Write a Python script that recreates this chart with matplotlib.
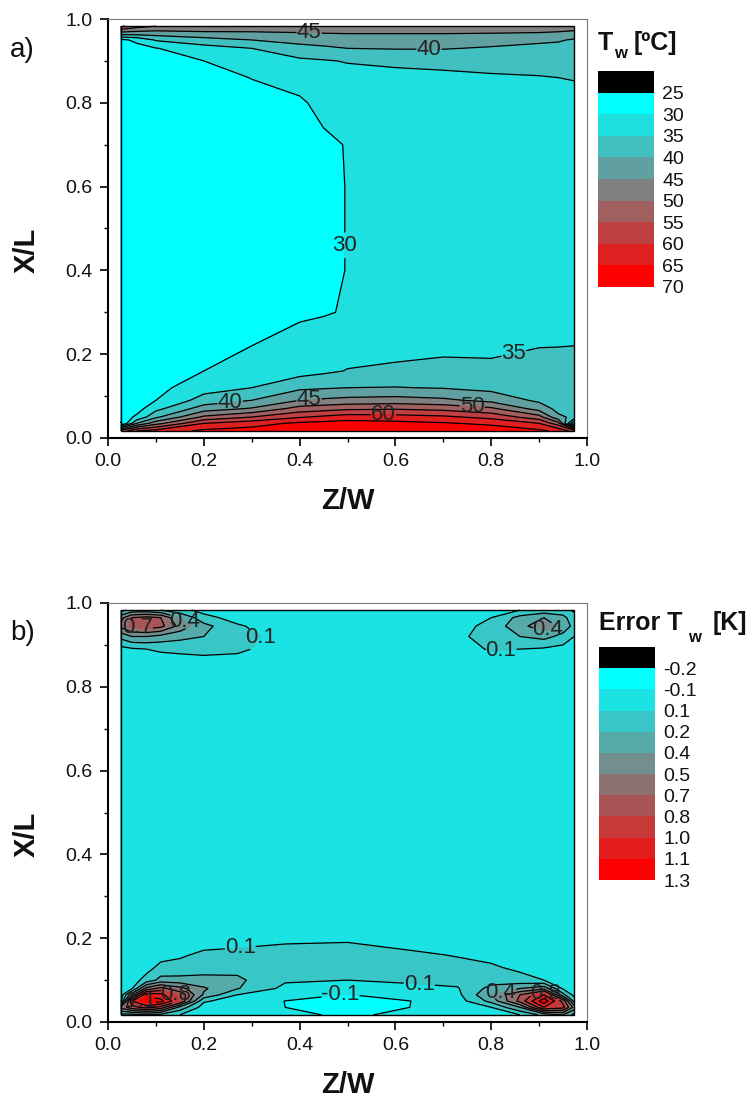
import numpy as np
import matplotlib
matplotlib.use('Agg')
import matplotlib.pyplot as plt
import matplotlib.ticker as tkr
from matplotlib.patches import Rectangle

plt.rcParams['font.family'] = ['Liberation Sans', 'DejaVu Sans']
plt.rcParams['contour.negative_linestyle'] = 'solid'

# ---- panel a) wall temperature T_w [C] ----
tw_z = [0.027, 0.06, 0.1, 0.2, 0.3, 0.4, 0.45, 0.5, 0.6, 0.7, 0.8, 0.9, 0.94, 0.973]
tw_x = [0.017, 0.035, 0.05, 0.07, 0.09, 0.12, 0.16, 0.22, 0.3, 0.4, 0.5, 0.6, 0.7,
        0.8, 0.86, 0.9, 0.93, 0.95, 0.965, 0.983]
# one list per Z/W station, values along tw_x
tw_cols = [
    [52, 24, 27, 26.5, 26.2, 26, 26, 26, 26, 26, 26, 26, 26, 26.2, 26.5, 27, 27.5, 29, 42, 56],
    [60, 40, 31, 28, 27.2, 26.8, 26.6, 26.5, 26.5, 26.5, 26.5, 26.5, 26.6, 26.8, 27.2, 27.8, 28.5, 31, 42, 52],
    [62, 48, 39, 33.5, 30, 28.5, 27.6, 27.2, 27, 27, 27, 27, 27.1, 27.5, 28, 29, 29.8, 35.5, 42, 50],
    [66, 60, 51, 42.5, 37, 33, 30, 28.5, 27.8, 27.5, 27.5, 27.5, 27.6, 27.8, 28.5, 30, 33, 38, 43.5, 49],
    [67, 63, 55, 45.5, 40, 35, 32.3, 30, 28.6, 28.2, 28.2, 28.2, 28.4, 28.5, 30.1, 32, 35, 40, 44, 48],
    [68, 66, 59.5, 52, 45, 39, 33, 31.2, 29.5, 29.2, 29.2, 29.2, 29.3, 29.7, 30.8, 34, 38.5, 41.5, 44.5, 48],
    [68.5, 66.5, 61, 53, 45.8, 39.5, 34.1, 32.1, 29.7, 29.6, 29.6, 29.6, 29.6, 30.6, 32, 34.6, 39.2, 42, 44.8, 48],
    [69, 67, 62.5, 54, 46.5, 40, 35.2, 33, 30.3, 30.05, 30.05, 30.05, 30.1, 31.2, 33.2, 35.3, 40.0, 42.5, 45, 48],
    [69, 66.5, 62, 54.5, 47, 40.2, 35.8, 33.5, 32.2, 31.2, 31, 31, 31.2, 32, 33.8, 35.8, 40.3, 42.5, 45, 48],
    [69, 65.5, 61, 53.5, 46, 39.7, 36, 34.2, 33, 32, 31.8, 31.8, 31.9, 32.5, 34.2, 36, 40.3, 42.3, 45, 48],
    [68, 64, 58.5, 51, 43.5, 38.5, 35.6, 34.4, 33.6, 32.8, 32.5, 32.5, 32.6, 33, 34.6, 36.2, 39.5, 42, 44.8, 48],
    [66, 60, 52, 43, 39, 37.5, 36.2, 34.9, 34.2, 33.3, 33, 33, 33.1, 33.3, 34.8, 36.5, 38.6, 41, 44.5, 48],
    [64, 52, 41, 38.5, 37.8, 37, 36, 34.95, 34.3, 33.5, 33.2, 33.2, 33.3, 33.5, 35, 36.6, 38.5, 40.5, 44, 48],
    [58, 24.5, 39, 38, 37.4, 36.6, 35.8, 35, 34.4, 33.7, 33.4, 33.4, 33.5, 33.6, 35.2, 36.8, 38.3, 39.5, 43, 48],
]
tw_levels = [25, 30, 35, 40, 45, 50, 55, 60, 65, 70]
tw_ticklabels = ['25', '30', '35', '40', '45', '50', '55', '60', '65', '70']
# (level, approx. position) of the in-line contour labels
tw_labels = [(45, (0.42, 0.96)), (40, (0.67, 0.926)), (30, (0.5, 0.46)),
             (35, (0.85, 0.186)), (40, (0.255, 0.086)), (45, (0.42, 0.083)),
             (60, (0.575, 0.047)), (50, (0.76, 0.07))]

# ---- panel b) error of T_w [K] ----
err_z = [0.027, 0.05, 0.08, 0.11, 0.15, 0.2, 0.27, 0.37, 0.5, 0.63, 0.73, 0.8, 0.86, 0.91, 0.95, 0.973]
err_x = [0.017, 0.035, 0.05, 0.065, 0.08, 0.1, 0.13, 0.16, 0.19, 0.22, 0.3,
         0.8, 0.86, 0.89, 0.92, 0.945, 0.965, 0.983]
err_cols = [
    [0.2, 0.6, 0.08, 0.02, 0.0, 0.0, 0.0, 0.0, 0.0, 0.0, 0.0, 0.0, 0.0, 0.05, 0.3, 0.6, 0.5, 0.2],
    [0.2, 0.8, 1.0, 0.5, 0.09, 0.04, 0.02, 0.0, 0.0, 0.0, 0.0, 0.0, 0.02, 0.08, 0.4, 0.75, 0.7, 0.3],
    [0.25, 0.9, 1.25, 1.1, 0.6, 0.15, 0.05, 0.0, 0.0, 0.0, 0.0, 0.0, 0.03, 0.1, 0.4, 0.8, 0.75, 0.3],
    [0.2, 0.8, 1.2, 1.05, 0.75, 0.3, 0.14, 0.05, 0.0, 0.0, 0.0, 0.0, 0.04, 0.12, 0.35, 0.75, 0.7, 0.25],
    [0.1, 0.35, 0.85, 0.8, 0.6, 0.3, 0.15, 0.08, 0.0, 0.0, 0.0, 0.0, 0.05, 0.13, 0.3, 0.5, 0.4, 0.15],
    [-0.02, 0.03, 0.12, 0.38, 0.42, 0.3, 0.18, 0.13, 0.05, 0.0, 0.0, 0.0, 0.05, 0.15, 0.25, 0.3, 0.15, 0.05],
    [-0.03, 0.0, 0.03, 0.1, 0.26, 0.28, 0.2, 0.15, 0.06, 0.0, 0.0, 0.0, 0.03, 0.14, 0.2, 0.12, 0.04, 0.0],
    [0.02, -0.05, -0.052, 0.01, 0.06, 0.12, 0.18, 0.17, 0.09, 0.02, 0.0, 0.0, 0.0, 0.0, 0.0, 0.0, 0.0, 0.0],
    [-0.1, -0.12, -0.1, -0.055, 0.0, 0.1, 0.16, 0.17, 0.1, 0.03, 0.0, 0.0, 0.0, 0.0, 0.0, 0.0, 0.0, 0.0],
    [0.02, -0.05, -0.052, 0.02, 0.07, 0.12, 0.17, 0.13, 0.05, 0.0, 0.0, 0.0, 0.0, 0.0, 0.0, 0.0, 0.0, 0.0],
    [-0.02, 0.0, 0.03, 0.06, 0.09, 0.14, 0.15, 0.09, 0.02, 0.0, 0.0, 0.0, 0.0, 0.02, 0.05, 0.04, 0.02, 0.0],
    [0.0, 0.1, 0.3, 0.4, 0.3, 0.18, 0.12, 0.06, 0.0, 0.0, 0.0, 0.0, 0.02, 0.12, 0.2, 0.15, 0.1, 0.02],
    [0.1, 0.4, 0.75, 0.7, 0.4, 0.15, 0.07, 0.02, 0.0, 0.0, 0.0, 0.0, 0.03, 0.1, 0.25, 0.35, 0.3, 0.1],
    [0.3, 1.0, 1.25, 1.0, 0.5, 0.1, 0.03, 0.0, 0.0, 0.0, 0.0, 0.0, 0.02, 0.08, 0.3, 0.5, 0.4, 0.15],
    [0.4, 0.9, 0.8, 0.3, 0.08, 0.0, 0.0, 0.0, 0.0, 0.0, 0.0, 0.0, 0.0, 0.05, 0.2, 0.35, 0.3, 0.15],
    [0.2, 0.5, 0.2, 0.05, 0.0, 0.0, 0.0, 0.0, 0.0, 0.0, 0.0, 0.0, 0.0, 0.03, 0.1, 0.2, 0.15, 0.08],
]
err_levels = [-0.2, -0.05, 0.1, 0.25, 0.4, 0.55, 0.7, 0.85, 1.0, 1.15, 1.3]
err_ticklabels = ['-0.2', '-0.1', '0.1', '0.2', '0.4', '0.5', '0.7', '0.8', '1.0', '1.1', '1.3']
err_labels = [(0.7, (0.06, 0.92)), (0.4, (0.157, 0.952)), (0.1, (0.32, 0.916)),
              (0.1, (0.82, 0.895)), (0.4, (0.916, 0.943)), (0.1, (0.276, 0.179)),
              (0.1, (0.65, 0.095)), (-0.05, (0.485, 0.072)), (1.15, (0.04, 0.076)),
              (0.85, (0.144, 0.07)), (0.4, (0.82, 0.072)), (0.85, (0.916, 0.076))]

# colour steps cyan -> grey -> red, black below the lowest level
tw_colors = ['#00FFFF', '#20DFDF', '#40C0C0', '#60A0A0', '#808080',
             '#A06060', '#BF4040', '#DF2020', '#FF0000']
err_colors = ['#00FFFF', '#1CE3E3', '#39C6C6', '#55AAAA', '#728E8E',
              '#8E7272', '#AA5555', '#C73939', '#E31C1C', '#FF0000']

TXT = '#111111'


def draw_panel(ax, z, x, cols, levels, colors, fmt, labels):
    data = np.array(cols, dtype=float).T
    ax.contourf(z, x, data, levels=levels, colors=['black'] + colors, extend='min')

    labelled = []
    for lev, _ in labels:
        if lev not in labelled:
            labelled.append(lev)
    plain = [lev for lev in levels if lev not in labelled]
    ax.contour(z, x, data, levels=plain, colors='black', linewidths=0.9)
    # one contour set per labelled level, so clabel picks the right line
    for lev in labelled:
        cs = ax.contour(z, x, data, levels=[lev], colors='black', linewidths=0.9)
        pos = [p for l, p in labels if l == lev]
        txts = cs.clabel(manual=pos, fmt=fmt, fontsize=16, inline=True,
                         inline_spacing=1)
        for t in txts:
            t.set_rotation(0)
            t.set_color('#222222')
    ax.add_patch(Rectangle((z[0], x[0]), z[-1] - z[0], x[-1] - x[0],
                           fill=False, edgecolor='black', linewidth=1.0, zorder=5))

    ax.set_xlim(0, 1)
    ax.set_ylim(0, 1)
    ax.xaxis.set_major_locator(tkr.MultipleLocator(0.2))
    ax.yaxis.set_major_locator(tkr.MultipleLocator(0.2))
    ax.xaxis.set_minor_locator(tkr.MultipleLocator(0.1))
    ax.yaxis.set_minor_locator(tkr.MultipleLocator(0.1))
    ax.xaxis.set_major_formatter(tkr.FormatStrFormatter('%.1f'))
    ax.yaxis.set_major_formatter(tkr.FormatStrFormatter('%.1f'))
    ax.tick_params(which='major', direction='out', length=6, width=1.2,
                   labelsize=14, labelcolor=TXT, pad=5)
    ax.tick_params(which='minor', direction='out', length=3, width=1.0)
    ax.tick_params(top=False, right=False, which='both')
    for s in ['left', 'bottom']:
        ax.spines[s].set_linewidth(1.5)
    for s in ['top', 'right']:
        ax.spines[s].set_linewidth(0.8)
        ax.spines[s].set_color('#777777')

    ax.set_xlabel('Z/W', fontsize=21, fontweight='bold', color=TXT)
    ax.set_ylabel('X/L', fontsize=21, fontweight='bold', color=TXT)
    ax.xaxis.set_label_coords(0.5, -0.117)
    ax.yaxis.set_label_coords(-0.14, 0.449)


def draw_legend(cax, colors, ticklabels):
    n = len(colors) + 1
    cax.barh(np.arange(n), 1, height=1, align='edge', color=['black'] + colors)
    cax.set_xlim(0, 1)
    cax.set_ylim(n, 0)
    cax.set_yticks(np.arange(1, n + 1))
    cax.set_yticklabels(ticklabels)
    cax.yaxis.tick_right()
    cax.tick_params(axis='y', length=0, labelsize=14, labelcolor=TXT, pad=6)
    cax.set_xticks([])
    for s in cax.spines.values():
        s.set_visible(False)


fig = plt.figure(figsize=(7.55, 11.03), dpi=100)
W, H = 755.0, 1103.0

ax1 = fig.add_axes([108 / W, 1 - 438 / H, 479 / W, 419 / H])
ax2 = fig.add_axes([108 / W, 1 - 1022 / H, 479 / W, 419 / H])
cax1 = fig.add_axes([598 / W, 1 - 287 / H, 56 / W, 216 / H])
cax2 = fig.add_axes([599 / W, 1 - 880 / H, 56 / W, 233 / H])

draw_panel(ax1, tw_z, tw_x, tw_cols, tw_levels, tw_colors,
           lambda v: '%d' % v, tw_labels)
draw_panel(ax2, err_z, err_x, err_cols, err_levels, err_colors,
           dict(zip(err_levels, err_ticklabels)), err_labels)

draw_legend(cax1, tw_colors, tw_ticklabels)
draw_legend(cax2, err_colors, err_ticklabels)

# legend titles with a low subscript w
tkw = dict(fontweight='bold', color=TXT, va='baseline', ha='left')
fig.text(598 / W, 1 - 50 / H, 'T', fontsize=18, **tkw)
fig.text(614 / W, 1 - 58 / H, 'w', fontsize=12, **tkw)
fig.text(634 / W, 1 - 50 / H, '[ºC]', fontsize=18, **tkw)
fig.text(599 / W, 1 - 630 / H, 'Error T', fontsize=18, **tkw)
fig.text(688 / W, 1 - 642 / H, 'w', fontsize=12, **tkw)
fig.text(713 / W, 1 - 630 / H, '[K]', fontsize=18, **tkw)

fig.text(10 / W, 1 - 57 / H, 'a)', fontsize=20, color=TXT, va='baseline', ha='left')
fig.text(10 / W, 1 - 640 / H, 'b)', fontsize=20, color=TXT, va='baseline', ha='left')

fig.savefig('out.png', dpi=100)
